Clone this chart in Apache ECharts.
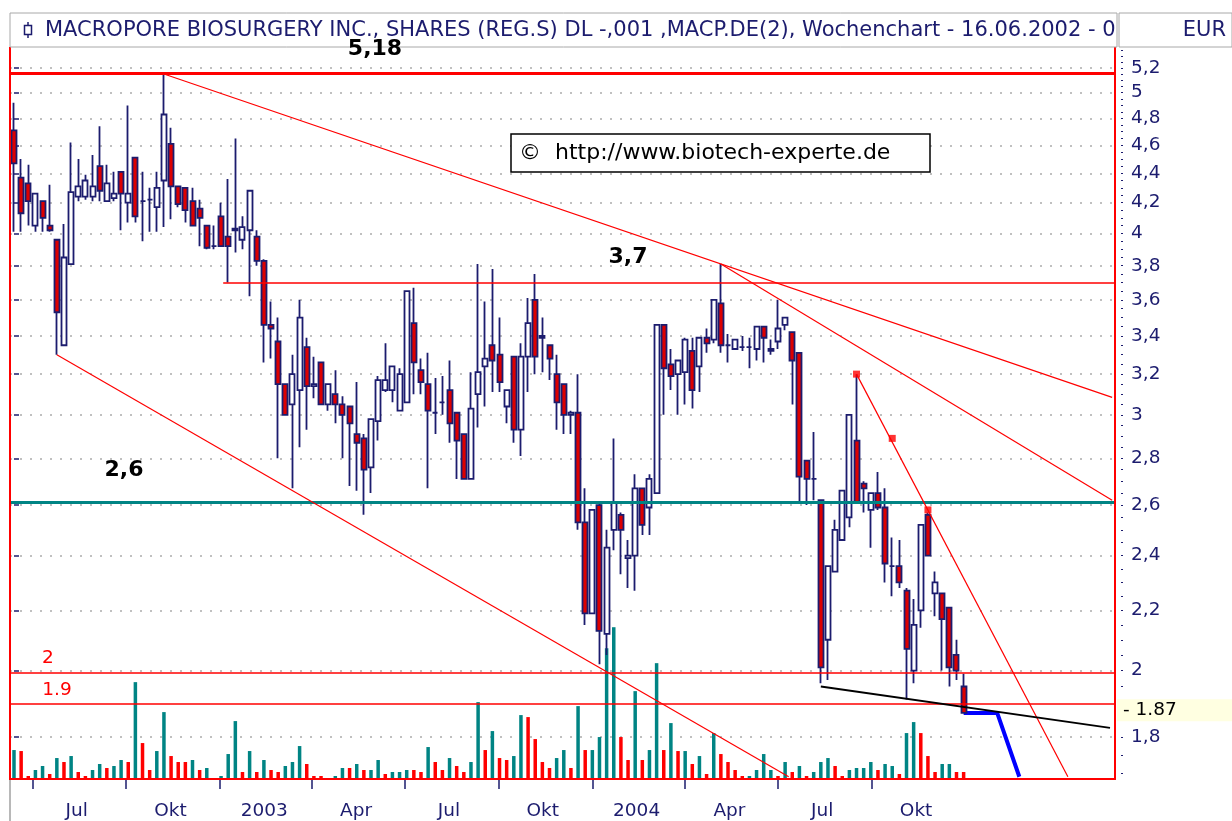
<!DOCTYPE html>
<html><head><meta charset="utf-8">
<script src="https://cdn.jsdelivr.net/npm/echarts@6/dist/echarts.min.js"></script>
<style>html,body{margin:0;padding:0;background:#fff;}#c{width:1232px;height:821px;}</style>
</head><body><div id="c"></div>
<script>
// ---------------- data ----------------
const startDate = '2002-06-13';           // week of candle 0
const opens  = [4.71,4.37,4.33,4.05,4.21,4.05,3.96,3.35,3.81,4.24,4.24,4.24,4.45,4.21,4.23,4.41,4.20,4.51,4.21,4.22,4.17,4.35,4.61,4.31,4.30,4.21,4.16,4.05,3.92,4.11,3.98,4.02,3.96,4.02,3.98,3.83,3.46,3.37,3.15,3.05,3.12,3.34,3.14,3.26,3.05,3.10,3.05,3.04,2.91,2.89,2.76,2.97,3.12,3.12,3.02,3.06,3.47,3.22,3.15,3.01,3.06,3.12,3.01,2.91,2.71,3.10,3.24,3.35,3.30,3.04,3.29,2.93,3.29,3.60,3.40,3.35,3.20,3.15,3.00,3.01,2.53,2.19,2.60,2.12,2.50,2.56,2.39,2.40,2.67,2.59,2.65,3.46,3.25,3.20,3.21,3.32,3.24,3.39,3.38,3.58,3.35,3.33,3.34,3.34,3.33,3.45,3.32,3.37,3.46,3.42,3.31,2.79,2.71,2.62,2.10,2.34,2.46,2.55,2.88,2.69,2.58,2.65,2.59,2.36,2.36,2.27,2.00,2.20,2.56,2.26,2.26,2.21,2.05,1.95];
const closes = [4.47,4.13,4.21,4.26,4.10,4.02,3.53,3.85,4.27,4.31,4.35,4.31,4.28,4.33,4.26,4.26,4.26,4.11,4.21,4.22,4.30,4.83,4.31,4.19,4.15,4.05,4.10,3.91,3.92,3.92,3.92,4.03,4.04,4.28,3.83,3.46,3.44,3.15,3.00,3.20,3.50,3.14,3.15,3.05,3.15,3.05,3.00,2.96,2.87,2.75,2.98,3.17,3.17,3.24,3.20,3.65,3.26,3.16,3.02,3.01,3.06,2.96,2.88,2.71,3.03,3.21,3.28,3.27,3.16,3.12,2.93,3.29,3.47,3.29,3.39,3.28,3.06,3.00,3.01,2.53,2.19,2.58,2.13,2.43,2.61,2.50,2.40,2.67,2.52,2.71,3.46,3.23,3.19,3.27,3.38,3.12,3.39,3.36,3.60,3.35,3.35,3.38,3.34,3.34,3.45,3.39,3.33,3.44,3.50,3.27,2.72,2.71,2.71,2.01,2.36,2.50,2.66,3.00,2.61,2.67,2.65,2.59,2.37,2.36,2.30,2.07,2.15,2.52,2.40,2.30,2.17,2.01,2.00,1.87];
const lows   = [4.01,4.01,4.05,4.01,4.01,4.01,3.30,3.35,3.81,4.21,4.22,4.21,4.21,4.21,4.21,4.02,4.07,4.07,3.95,4.01,4.01,4.04,4.09,4.17,4.07,4.05,3.92,3.90,3.90,3.92,3.70,3.88,3.90,3.62,3.80,3.26,3.28,2.80,3.00,2.67,2.85,2.93,3.08,3.05,3.02,2.96,2.80,2.68,2.66,2.56,2.65,2.88,3.11,3.06,3.02,3.06,3.10,3.10,2.67,2.91,3.00,2.87,2.71,2.71,2.71,2.94,3.04,3.11,3.11,2.96,2.87,2.81,3.11,3.20,3.21,3.17,2.93,2.91,2.91,2.50,2.15,2.19,2.02,2.05,2.42,2.33,2.28,2.27,2.48,2.48,2.65,3.00,3.12,3.00,3.05,3.03,3.11,3.31,3.36,3.31,3.26,3.33,3.32,3.23,3.27,3.26,3.30,3.33,3.43,3.05,2.61,2.60,2.62,1.96,1.97,2.34,2.46,2.51,2.61,2.57,2.43,2.58,2.30,2.25,2.28,1.91,1.96,2.14,2.40,2.18,2.00,1.95,1.97,1.87];
const highs  = [4.92,4.50,4.46,4.26,4.21,4.32,3.96,4.06,4.62,4.50,4.39,4.53,4.74,4.46,4.41,4.41,4.90,4.51,4.41,4.30,4.41,5.15,4.73,4.31,4.30,4.30,4.22,4.05,4.05,4.20,4.36,4.65,4.11,4.28,4.02,3.84,3.59,3.50,3.15,3.30,3.60,3.39,3.29,3.26,3.15,3.22,3.09,3.04,3.16,2.91,2.98,3.19,3.36,3.24,3.23,3.65,3.67,3.28,3.31,3.18,3.19,3.27,3.01,2.91,3.21,3.81,3.59,3.78,3.50,3.12,3.29,3.36,3.61,3.75,3.50,3.35,3.30,3.15,3.02,3.20,2.67,2.58,2.61,2.50,2.89,2.57,2.46,2.73,2.67,2.73,3.46,3.46,3.33,3.27,3.39,3.39,3.39,3.44,3.60,3.81,3.41,3.38,3.40,3.39,3.45,3.45,3.38,3.60,3.50,3.42,3.31,2.79,2.92,2.62,2.36,2.54,2.66,3.00,3.20,2.70,2.65,2.74,2.67,2.47,2.46,2.28,2.24,2.52,2.57,2.34,2.26,2.21,2.10,1.99];
const volumes = [29,28,3,9,13,5,21,17,23,7,3,9,15,11,13,19,17,97,36,9,28,67,23,17,17,19,9,11,0,3,25,58,7,28,7,19,9,7,13,17,33,15,3,3,0,3,11,11,15,9,9,19,5,7,7,9,9,7,32,17,9,21,13,7,17,77,29,48,21,19,23,64,62,40,17,11,21,29,11,73,29,29,42,131,152,42,19,88,19,29,116,29,56,28,28,15,23,5,46,25,17,9,3,3,9,25,9,3,17,7,13,3,7,17,21,13,3,9,11,11,17,9,15,13,5,46,57,46,23,7,15,15,7,7];
const volumeUp = [1,0,0,1,1,0,1,0,1,0,0,1,1,0,1,1,0,1,0,0,1,1,0,0,0,1,0,1,0,1,1,1,0,1,0,1,0,0,1,1,1,0,0,0,0,1,1,0,1,0,1,1,0,1,1,1,0,0,1,0,0,1,0,0,1,1,0,1,0,0,1,1,0,0,0,0,1,1,0,1,0,1,1,1,1,0,0,1,0,1,1,0,1,0,1,0,1,0,1,0,0,0,0,1,1,1,1,0,1,0,1,0,1,1,1,0,0,1,1,1,1,0,1,1,0,1,1,0,0,0,1,1,0,0];
const priceTicks = [5.2,5,4.8,4.6,4.4,4.2,4,3.8,3.6,3.4,3.2,3,2.8,2.6,2.4,2.2,2,1.8];
const quarterStarts = ['2002-07-01','2002-10-01','2003-01-01','2003-04-01','2003-07-01','2003-10-01','2004-01-01','2004-04-01','2004-07-01','2004-10-01'];
const quarterLabels = ['Jul','Okt','2003','Apr','Jul','Okt','2004','Apr','Jul','Okt'];
const lastPrice = 1.87;
const levelTop = 5.18, level37 = 3.7, level26 = 2.6, level20 = 2.0, level19 = 1.9;
const level37Start = 29.3;                          // week where the 3,7 line starts
const trendUpper  = [[21, 5.15], [153.8, 3.084]];
const trendUpper2 = [[99, 3.81], [153.8, 2.62]];
const trendLower  = [[6, 3.30], [108.5, 1.69]];
const supportLine = [[113, 1.95], [153.5, 1.826]];
const steepLine   = [[118, 3.20], [147.6, 1.69]];
const steepPoints = [[118, 3.20], [123, 2.89], [128, 2.58]];
const projection  = [[133, 1.87], [137.7, 1.87], [140.8, 1.69]];

// ---------------- chart ----------------
const L = Math.log;
const NAVY = '#1c1c6e', RED = '#ff0000', TEAL = '#008484';
const FONT = "'DejaVu Sans', Verdana, sans-serif";
const xMin = -0.56, xMax = 154.2;
const yMinPrice = 1.684, yMaxPrice = 5.367;
const weekOf = d => (Date.parse(d) - Date.parse(startDate)) / 864e5 / 7;
const tickWeeks = quarterStarts.map(weekOf);
const labelWeeks = tickWeeks.map(w => w + 6.2);
const fmt = v => String(Math.round(v * 10) / 10).replace('.', ',');
const minorTicks = [];
for (let p = 1.70; p < 5.36; p += 0.05) minorTicks.push(L(p));

const candleData = opens.map((o, i) => [i, L(o), L(closes[i]), L(lows[i]), L(highs[i])]);
const volData = volumes.map((v, i) => ({ value: [i, v], itemStyle: { color: volumeUp[i] ? TEAL : RED } }));
const seg = (pts, style) => [{ coord: [pts[0][0], L(pts[0][1])], lineStyle: style }, { coord: [pts[1][0], L(pts[1][1])] }];

const chart = echarts.init(document.getElementById('c'), null, { renderer: 'canvas' });
chart.setOption({
  animation: false,
  backgroundColor: '#ffffff',
  grid: { left: 10, right: 117, top: 48, bottom: 41, show: false },
  xAxis: {
    type: 'value', min: xMin, max: xMax, offset: 1,
    axisLine: { show: false }, splitLine: { show: false },
    axisTick: { show: true, customValues: tickWeeks, length: 10, lineStyle: { color: NAVY, width: 1.5 } },
    axisLabel: {
      customValues: labelWeeks, color: NAVY, fontFamily: FONT, fontSize: 18.5, margin: 22,
      formatter: v => { const i = labelWeeks.findIndex(w => Math.abs(w - v) < 1e-6); return i >= 0 ? quarterLabels[i] : ''; }
    }
  },
  yAxis: [
    {
      type: 'value', position: 'right', min: L(yMinPrice), max: L(yMaxPrice), offset: 6,
      axisLine: { show: false },
      axisTick: { show: true, customValues: priceTicks.map(L), length: 5, lineStyle: { color: NAVY, width: 1.5 } },
      axisLabel: { customValues: priceTicks.map(L), formatter: v => fmt(Math.exp(v)), color: NAVY, fontFamily: FONT, fontSize: 18.5, margin: 10 },
      splitLine: { show: true, lineStyle: { color: '#c0c0c0', width: 2, type: [2, 8] } }
    },
    {
      type: 'value', position: 'right', min: L(yMinPrice), max: L(yMaxPrice), offset: 6,
      axisLine: { show: false }, axisLabel: { show: false }, splitLine: { show: false },
      axisTick: { show: true, customValues: minorTicks, length: 2, lineStyle: { color: NAVY, width: 1 } }
    },
    { type: 'value', min: 0, max: 732, show: false }
  ],
  series: [
    {
      type: 'bar', name: 'Volumen', yAxisIndex: 2, barWidth: 3.5, data: volData, z: 1, silent: true
    },
    {
      type: 'line', name: 'Projektion', data: projection.map(p => [p[0], L(p[1])]),
      symbol: 'none', lineStyle: { color: '#0000ff', width: 4 }, z: 2, silent: true,
      markLine: {
        silent: true, symbol: ['none', 'none'], animation: false,
        label: { show: false },
        data: [
          { yAxis: L(levelTop), lineStyle: { color: RED, width: 3, type: 'solid' } },
          [{ coord: [level37Start, L(level37)], lineStyle: { color: RED, width: 1.5, type: 'solid' } }, { coord: [xMax, L(level37)] }],
          { yAxis: L(level26), lineStyle: { color: TEAL, width: 3, type: 'solid' } },
          { yAxis: L(level20), lineStyle: { color: RED, width: 1.5, type: 'solid' } },
          { yAxis: L(level19), lineStyle: { color: RED, width: 1.5, type: 'solid' } },
          seg(trendUpper, { color: RED, width: 1.2, type: 'solid' }),
          seg(trendUpper2, { color: RED, width: 1.2, type: 'solid' }),
          seg(trendLower, { color: RED, width: 1.2, type: 'solid' }),
          seg(steepLine, { color: RED, width: 1.2, type: 'solid' }),
          seg(supportLine, { color: '#000000', width: 1.8, type: 'solid' }),
          {
            yAxis: L(lastPrice), lineStyle: { color: 'rgba(0,0,0,0)', width: 0 },
            label: {
              show: true, position: 'end', distance: 2, formatter: '- ' + String(lastPrice),
              color: '#000', fontFamily: FONT, fontSize: 18.5, backgroundColor: '#ffffe1',
              padding: [2, 58, 1, 6], align: 'left'
            }
          }
        ]
      }
    },
    {
      type: 'candlestick', name: 'Kurs', data: candleData, encode: { x: 0, y: [1, 2, 3, 4] },
      barWidth: 5.5, z: 3, silent: true,
      itemStyle: { color: '#ffffff', color0: '#dd0000', borderColor: NAVY, borderColor0: NAVY, borderWidth: 1.8 }
    },
    {
      type: 'scatter', name: 'Punkte', data: steepPoints.map(p => [p[0], L(p[1])]),
      symbol: 'rect', symbolSize: 7, itemStyle: { color: RED }, z: 4, silent: true
    }
  ],
  graphic: [
    { type: 'line', shape: { x1: 10, y1: 47, x2: 10, y2: 780 }, style: { stroke: RED, lineWidth: 2 }, z: 9 },
    { type: 'line', shape: { x1: 1115, y1: 47, x2: 1115, y2: 780 }, style: { stroke: RED, lineWidth: 2 }, z: 9 },
    { type: 'line', shape: { x1: 10, y1: 779, x2: 1115, y2: 779 }, style: { stroke: RED, lineWidth: 2 }, z: 9 },
    { type: 'rect', shape: { x: 10, y: 13, width: 1107, height: 34 }, style: { fill: '#fff', stroke: '#a8a8a8', lineWidth: 1 }, z: 10 },
    { type: 'rect', shape: { x: 1119, y: 13, width: 113, height: 34 }, style: { fill: '#fff', stroke: '#a8a8a8', lineWidth: 1 }, z: 10 },
    { type: 'line', shape: { x1: 28, y1: 22, x2: 28, y2: 38 }, style: { stroke: NAVY, lineWidth: 1.5 }, z: 11 },
    { type: 'rect', shape: { x: 24.5, y: 25.5, width: 7, height: 9 }, style: { fill: '#fff', stroke: NAVY, lineWidth: 1.5 }, z: 12 },
    { type: 'text', x: 45, y: 31, z: 11, style: {
        text: 'MACROPORE BIOSURGERY INC., SHARES (REG.S) DL -,001 ,MACP.DE(2), Wochenchart - 16.06.2002 - 07.01.2005',
        fill: NAVY, font: "21px 'DejaVu Sans'", verticalAlign: 'middle', width: 1072, overflow: 'truncate', ellipsis: '' } },
    { type: 'text', x: 1226, y: 31, z: 11, style: { text: 'EUR', fill: NAVY, font: "21px 'DejaVu Sans'", align: 'right', verticalAlign: 'middle' } },
    { type: 'text', x: 375, y: 49, z: 20, style: { text: '5,18', fill: '#000', font: "bold 22px 'DejaVu Sans'", align: 'center', verticalAlign: 'middle' } },
    { type: 'text', x: 628, y: 257, z: 20, style: { text: '3,7', fill: '#000', font: "bold 22px 'DejaVu Sans'", align: 'center', verticalAlign: 'middle' } },
    { type: 'text', x: 124, y: 470, z: 20, style: { text: '2,6', fill: '#000', font: "bold 22px 'DejaVu Sans'", align: 'center', verticalAlign: 'middle' } },
    { type: 'text', x: 48, y: 658, z: 20, style: { text: '2', fill: RED, font: "18.5px 'DejaVu Sans'", align: 'center', verticalAlign: 'middle' } },
    { type: 'text', x: 57, y: 690, z: 20, style: { text: '1.9', fill: RED, font: "18.5px 'DejaVu Sans'", align: 'center', verticalAlign: 'middle' } },
    { type: 'rect', shape: { x: 511, y: 134, width: 419, height: 38 }, style: { fill: '#fff', stroke: '#000', lineWidth: 1.5 }, z: 20 },
    { type: 'text', x: 519, y: 153, z: 21, style: { text: '\u00A9  http://www.biotech-experte.de', fill: '#000', font: "22px 'DejaVu Sans'", verticalAlign: 'middle' } },
    { type: 'line', shape: { x1: 10, y1: 780, x2: 10, y2: 821 }, style: { stroke: '#a0a0a0', lineWidth: 1.5 }, z: 10 }
  ]
});
</script>
</body></html>
